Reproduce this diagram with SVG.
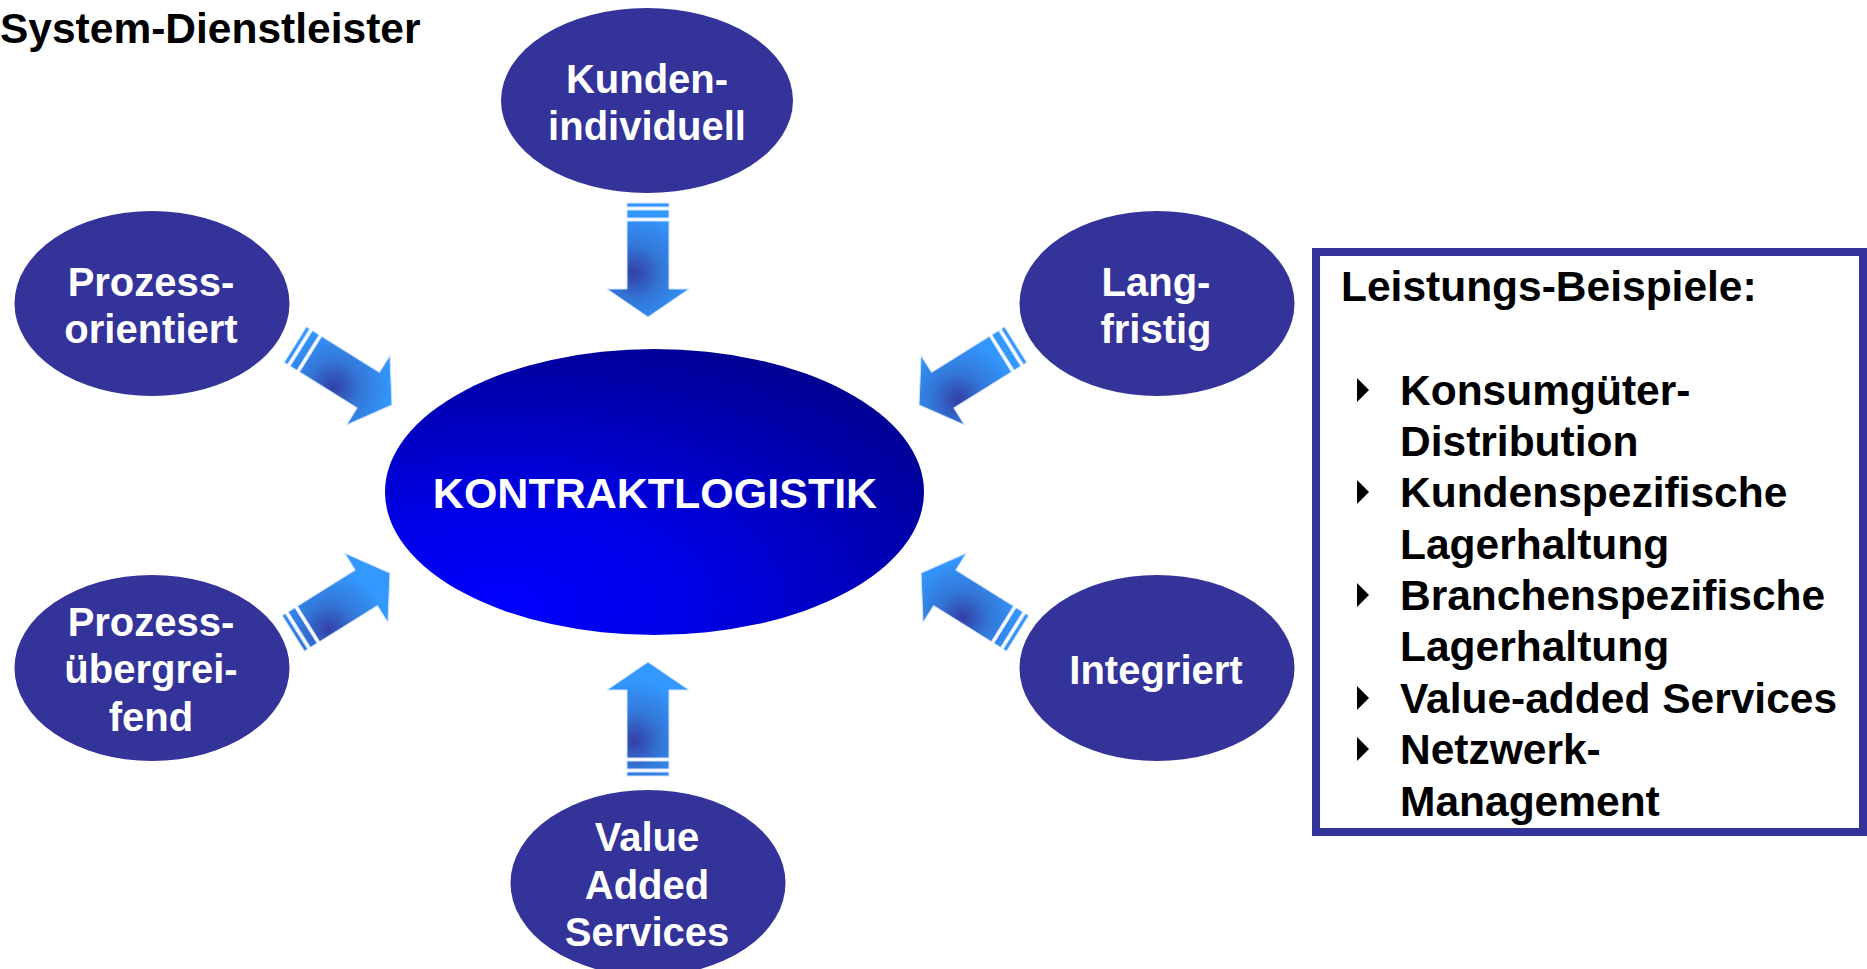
<svg xmlns="http://www.w3.org/2000/svg" xmlns:xlink="http://www.w3.org/1999/xlink" width="1867" height="969" viewBox="0 0 1867 969">
<style>
text { font-family: "Liberation Sans", Arial, Helvetica, sans-serif; font-weight: bold; }
.node { fill: #333399; }
.nt { fill: #ffffff; font-size: 40px; text-anchor: middle; }
.bt { fill: #000000; font-size: 42.5px; }
.arrow { stroke: #d4e4ff; stroke-width: 1; }
</style>
<defs>
  <radialGradient id="gCenter" cx="0.22" cy="0.9" r="1.0" fx="0.22" fy="0.9">
    <stop offset="0" stop-color="#0000ff"/>
    <stop offset="0.35" stop-color="#0000e6"/>
    <stop offset="1" stop-color="#000090"/>
  </radialGradient>
  <radialGradient id="gD" gradientUnits="userSpaceOnUse" cx="70" cy="14" r="62">
    <stop offset="0" stop-color="#3340a6"/><stop offset="0.45" stop-color="#3377d8"/><stop offset="1" stop-color="#3399ff"/>
  </radialGradient>
  <radialGradient id="gU" gradientUnits="userSpaceOnUse" cx="35" cy="-14" r="62">
    <stop offset="0" stop-color="#3340a6"/><stop offset="0.45" stop-color="#3377d8"/><stop offset="1" stop-color="#3399ff"/>
  </radialGradient>
  <radialGradient id="gTL" gradientUnits="userSpaceOnUse" cx="55" cy="16" r="60">
    <stop offset="0" stop-color="#3340a6"/><stop offset="0.45" stop-color="#3377d8"/><stop offset="1" stop-color="#3399ff"/>
  </radialGradient>
  <radialGradient id="gTR" gradientUnits="userSpaceOnUse" cx="78" cy="-16" r="60">
    <stop offset="0" stop-color="#3340a6"/><stop offset="0.45" stop-color="#3377d8"/><stop offset="1" stop-color="#3399ff"/>
  </radialGradient>
  <radialGradient id="gBL" gradientUnits="userSpaceOnUse" cx="32" cy="16" r="60">
    <stop offset="0" stop-color="#3340a6"/><stop offset="0.45" stop-color="#3377d8"/><stop offset="1" stop-color="#3399ff"/>
  </radialGradient>
  <radialGradient id="gBR" gradientUnits="userSpaceOnUse" cx="55" cy="-16" r="60">
    <stop offset="0" stop-color="#3340a6"/><stop offset="0.45" stop-color="#3377d8"/><stop offset="1" stop-color="#3399ff"/>
  </radialGradient>
  <g id="arr">
    <rect x="0" y="-21" width="4" height="42"/>
    <rect x="7" y="-21" width="8" height="42"/>
    <polygon points="18,-21 86,-21 86,-41 114,0 86,41 86,21 18,21"/>
  </g>
  <polygon id="bul" points="0,-12 12,0 0,12" fill="#000000"/>
</defs>

<text class="bt" x="0" y="43">System-Dienstleister</text>

<g id="connectors">
  <use xlink:href="#arr" href="#arr" class="arrow" fill="url(#gD)" transform="translate(648,203) rotate(90)"/>
  <use xlink:href="#arr" href="#arr" class="arrow" fill="url(#gU)" transform="translate(648,776) rotate(-90)"/>
  <use xlink:href="#arr" href="#arr" class="arrow" fill="url(#gTL)" transform="translate(295.3,344.6) rotate(32)"/>
  <use xlink:href="#arr" href="#arr" class="arrow" fill="url(#gTR)" transform="translate(1015.7,344.6) rotate(148)"/>
  <use xlink:href="#arr" href="#arr" class="arrow" fill="url(#gBL)" transform="translate(293.3,633.4) rotate(-32)"/>
  <use xlink:href="#arr" href="#arr" class="arrow" fill="url(#gBR)" transform="translate(1017.7,633.4) rotate(-148)"/>
</g>

<g id="center">
  <ellipse cx="654.5" cy="492" rx="269.5" ry="143" fill="url(#gCenter)"/>
  <text x="655" y="508" fill="#ffffff" font-size="43" text-anchor="middle">KONTRAKTLOGISTIK</text>
</g>

<g id="kunden">
  <ellipse class="node" cx="647" cy="100.5" rx="146" ry="92.5"/>
  <text class="nt" x="647" y="93">Kunden-</text>
  <text class="nt" x="647" y="140">individuell</text>
</g>

<g id="prozess-orientiert">
  <ellipse class="node" cx="152" cy="303.5" rx="137.5" ry="92.5"/>
  <text class="nt" x="151" y="296">Prozess-</text>
  <text class="nt" x="151" y="343">orientiert</text>
</g>

<g id="langfristig">
  <ellipse class="node" cx="1157" cy="303.5" rx="137.5" ry="92.5"/>
  <text class="nt" x="1156" y="296">Lang-</text>
  <text class="nt" x="1156" y="343">fristig</text>
</g>

<g id="prozess-uebergreifend">
  <ellipse class="node" cx="152" cy="668" rx="137.5" ry="93"/>
  <text class="nt" x="151" y="636">Prozess-</text>
  <text class="nt" x="151" y="683">übergrei-</text>
  <text class="nt" x="151" y="731">fend</text>
</g>

<g id="integriert">
  <ellipse class="node" cx="1157" cy="668" rx="137.5" ry="93"/>
  <text class="nt" x="1156" y="684">Integriert</text>
</g>

<g id="value-added">
  <ellipse class="node" cx="648" cy="883" rx="137.5" ry="93"/>
  <text class="nt" x="647" y="851">Value</text>
  <text class="nt" x="647" y="899">Added</text>
  <text class="nt" x="647" y="946">Services</text>
</g>

<g id="leistungs-beispiele">
  <rect x="1316" y="252" width="547" height="580" fill="#ffffff" stroke="#333399" stroke-width="8"/>
  <text class="bt" x="1341" y="301">Leistungs-Beispiele:</text>
  <use xlink:href="#bul" href="#bul" x="1357" y="390"/>
  <text class="bt" x="1400" y="405">Konsumgüter-</text>
  <text class="bt" x="1400" y="456">Distribution</text>
  <use xlink:href="#bul" href="#bul" x="1357" y="492"/>
  <text class="bt" x="1400" y="507">Kundenspezifische</text>
  <text class="bt" x="1400" y="559">Lagerhaltung</text>
  <use xlink:href="#bul" href="#bul" x="1357" y="595"/>
  <text class="bt" x="1400" y="610">Branchenspezifische</text>
  <text class="bt" x="1400" y="661">Lagerhaltung</text>
  <use xlink:href="#bul" href="#bul" x="1357" y="698"/>
  <text class="bt" x="1400" y="713">Value-added Services</text>
  <use xlink:href="#bul" href="#bul" x="1357" y="749"/>
  <text class="bt" x="1400" y="764">Netzwerk-</text>
  <text class="bt" x="1400" y="816">Management</text>
</g>
</svg>
